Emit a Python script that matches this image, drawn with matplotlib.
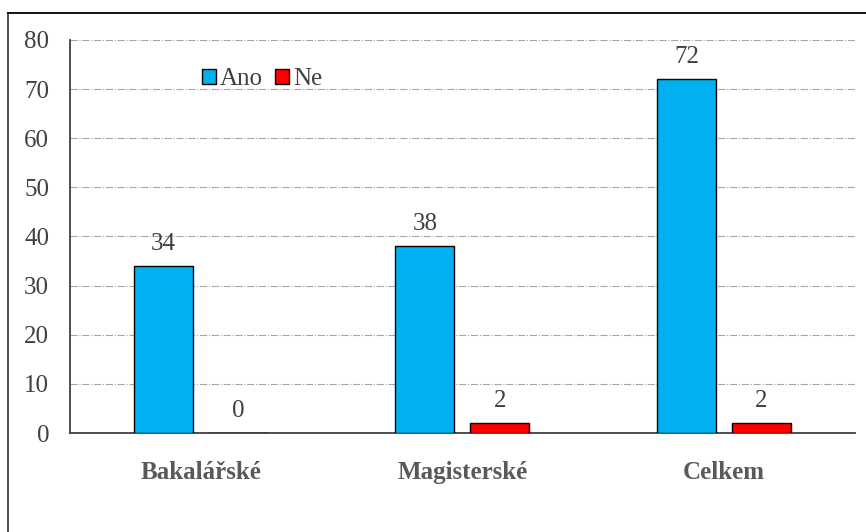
import matplotlib.pyplot as plt
import numpy as np
from matplotlib.lines import Line2D

kategorie = ["Bakalářské", "Magisterské", "Celkem"]
ano = [34, 38, 72]
ne = [0, 2, 2]

plt.rcParams["font.family"] = ["Liberation Serif", "DejaVu Serif"]
fs = 18

fig = plt.figure(figsize=(8.66, 5.32), dpi=100)
ax = fig.add_axes([0.0808, 0.186, 0.906, 0.739])

x = np.arange(len(kategorie))
w = 0.225
off = 0.143
b1 = ax.bar(x - off, ano, w, color="#00b0f0", edgecolor="black", linewidth=1, label="Ano", zorder=3)
b2 = ax.bar(x + off, ne, w, color="#ff0000", edgecolor="black", linewidth=1, label="Ne", zorder=3)

for bars in (b1, b2):
    for r in bars:
        h = r.get_height()
        ax.annotate(f"{h:g}", (r.get_x() + r.get_width() / 2, h), xytext=(0, 8),
                    textcoords="offset points", ha="center", va="bottom",
                    fontsize=fs, color="#404040")

ax.set_xlim(-0.5, 2.5)
ax.set_ylim(0, 80)
ax.set_yticks(range(0, 81, 10))
ax.set_xticks(x)
ax.set_xticklabels(kategorie, fontsize=fs, fontweight="bold", color="#595959")
ax.tick_params(axis="y", labelsize=fs, labelcolor="#404040", length=0, pad=15)
ax.tick_params(axis="x", length=0, pad=20)
ax.yaxis.grid(True, linestyle="-.", color="#a6a6a6", linewidth=0.8, zorder=0)
ax.spines["top"].set_visible(False)
ax.spines["right"].set_visible(False)
ax.spines["left"].set_color("#404040")
ax.spines["bottom"].set_color("#404040")
ax.spines["left"].set_linewidth(1.3)
ax.spines["bottom"].set_linewidth(1.3)

ax.legend(loc="upper left", bbox_to_anchor=(0.14, 0.985), ncol=2, frameon=False,
          fontsize=fs, handlelength=0.55, handleheight=0.55, handletextpad=0.15,
          columnspacing=0.5, labelcolor="#404040")

# outer frame (left and top edges only visible)
fig.add_artist(Line2D([8 / 866, 8 / 866], [0, 1 - 13 / 532], color="#404040", linewidth=1.3))
fig.add_artist(Line2D([8 / 866, 1], [1 - 13 / 532, 1 - 13 / 532], color="black", linewidth=1.3))

fig.savefig("out.png", dpi=100)
